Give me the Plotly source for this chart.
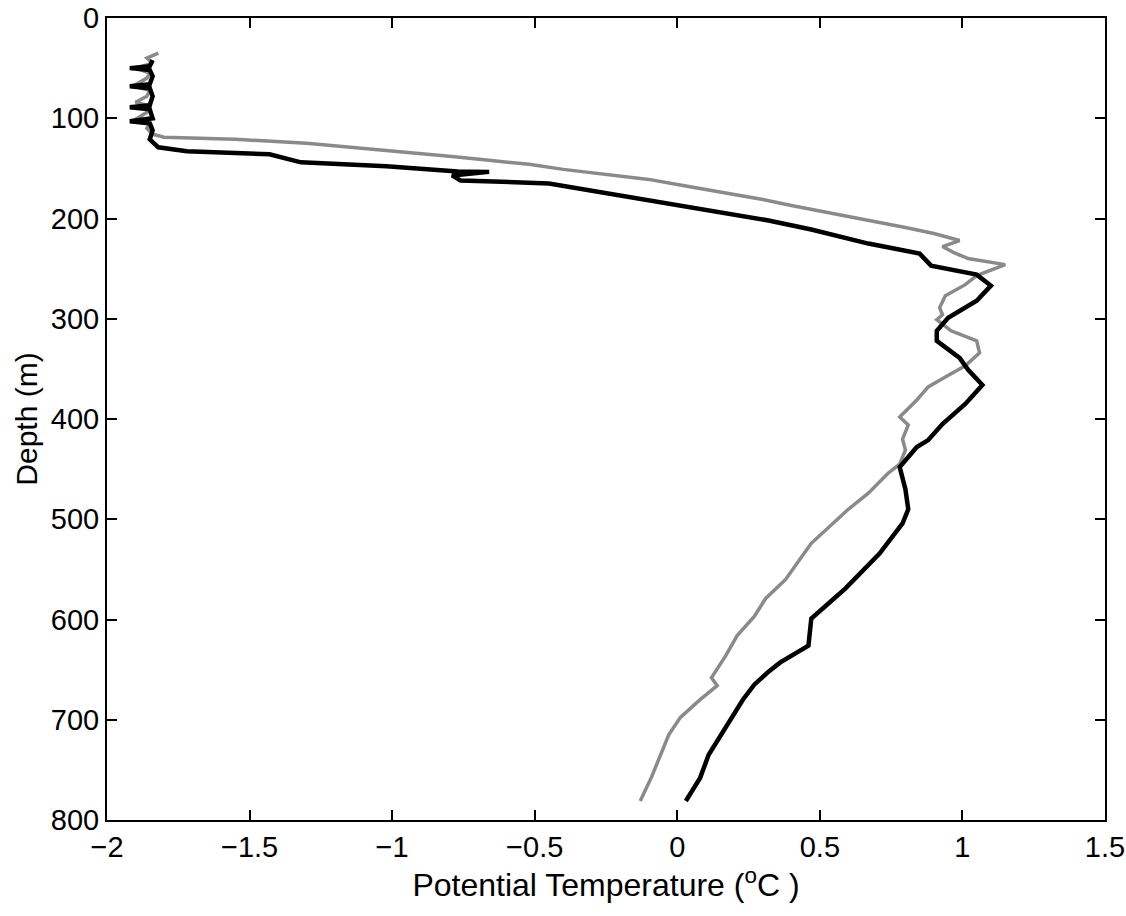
import plotly.graph_objects as go

# Grey profile (lighter line)
grey_temp = [-1.82, -1.86, -1.84, -1.90, -1.85, -1.86, -1.91, -1.85, -1.86, -1.90, -1.85, -1.86, -1.91, -1.85, -1.86,
             -1.84, -1.80, -1.55, -1.30, -1.22, -1.10, -0.95, -0.80, -0.66, -0.52, -0.40, -0.22, -0.10, 0.00, 0.18,
             0.30, 0.40, 0.55, 0.67, 0.80, 0.90, 0.99, 0.93, 0.97, 1.02, 1.08, 1.15, 1.05, 1.01, 0.94, 0.92, 0.93,
             0.91, 0.96, 1.05, 1.06, 1.01, 0.94, 0.88, 0.84, 0.78, 0.81, 0.79, 0.80, 0.78, 0.74, 0.67, 0.60, 0.53,
             0.47, 0.43, 0.38, 0.31, 0.27, 0.21, 0.17, 0.12, 0.14, 0.08, 0.01, -0.03, -0.06, -0.09, -0.13]
grey_depth = [35, 40, 45, 50, 55, 60, 68, 72, 78, 84, 88, 94, 103, 106, 110,
              116, 119, 121, 125, 127, 130, 134, 138, 142, 146, 151, 157, 161, 166, 175,
              181, 187, 195, 202, 209, 215, 222, 228, 234, 240, 243, 246, 257, 266, 277, 289, 296,
              301, 312, 322, 334, 347, 358, 368, 381, 398, 406, 420, 431, 445, 454, 474, 490, 508,
              524, 540, 560, 579, 597, 616, 636, 658, 666, 680, 698, 715, 735, 757, 781]

# Black profile (darker line)
black_temp = [-1.84, -1.85, -1.92, -1.85, -1.84, -1.85, -1.92, -1.85, -1.84, -1.85, -1.92, -1.85, -1.84, -1.92,
              -1.85, -1.84, -1.85, -1.82, -1.72, -1.43, -1.32, -1.02, -0.77, -0.66, -0.79, -0.76, -0.45, -0.30,
              -0.15, 0.02, 0.17, 0.32, 0.47, 0.60, 0.67, 0.76, 0.85, 0.89, 1.05, 1.10, 1.05, 0.95, 0.91, 0.91,
              0.99, 1.02, 1.07, 1.01, 0.93, 0.88, 0.84, 0.78, 0.80, 0.81, 0.79, 0.71, 0.65, 0.59, 0.53, 0.47,
              0.46, 0.36, 0.32, 0.27, 0.23, 0.19, 0.15, 0.11, 0.08, 0.03]
black_depth = [42, 48, 50, 52, 58, 66, 68, 70, 78, 87, 89, 91, 100, 103,
               105, 112, 121, 129, 133, 136, 144, 148, 153, 153.5, 157, 162, 165, 172,
               180, 188, 195, 202, 211, 220, 225, 230, 235, 247, 256, 267, 282, 299, 312, 322,
               339, 351, 366, 385, 405, 421, 428, 448, 470, 490, 504, 534, 552, 569, 584, 599,
               626, 643, 652, 665, 680, 698, 715, 735, 758, 781]

x_ticks = [-2, -1.5, -1, -0.5, 0, 0.5, 1, 1.5]
x_tick_labels = ["\u22122", "\u22121.5", "\u22121", "\u22120.5", "0", "0.5", "1", "1.5"]
y_ticks = [0, 100, 200, 300, 400, 500, 600, 700, 800]

fig = go.Figure()
fig.add_trace(go.Scatter(x=grey_temp, y=grey_depth, mode="lines",
                         line=dict(color="#8a8a8a", width=3.5), showlegend=False))
fig.add_trace(go.Scatter(x=black_temp, y=black_depth, mode="lines",
                         line=dict(color="#000000", width=4.5), showlegend=False))

font_family = "Liberation Sans, Arial, Helvetica, sans-serif"
fig.update_layout(
    width=1126, height=916,
    margin=dict(l=107, r=21, t=18, b=96),
    paper_bgcolor="white", plot_bgcolor="white",
    font=dict(family=font_family, size=29, color="black"),
)
fig.update_xaxes(range=[-2, 1.5], tickvals=x_ticks, ticktext=x_tick_labels,
                 ticks="inside", ticklen=10, tickwidth=1.5, tickcolor="black",
                 showline=True, linecolor="black", linewidth=2, mirror="allticks",
                 showgrid=False, zeroline=False, automargin=False, ticklabeloverflow="allow",
                 title=dict(text="Potential Temperature (<sup>o</sup>C )", standoff=9,
                            font=dict(size=32)))
fig.update_yaxes(range=[800, 0], tickvals=y_ticks,
                 ticks="inside", ticklen=10, tickwidth=1.5, tickcolor="black",
                 showline=True, linecolor="black", linewidth=2, mirror="allticks",
                 showgrid=False, zeroline=False, automargin=False, ticklabeloverflow="allow",
                 title=dict(text="Depth (m)", standoff=4, font=dict(size=30)))

# Remove the default page margin so the figure fills the window exactly.
fig.write_html("out.html", config={"displayModeBar": False},
               post_script="document.body.style.margin='0';")
